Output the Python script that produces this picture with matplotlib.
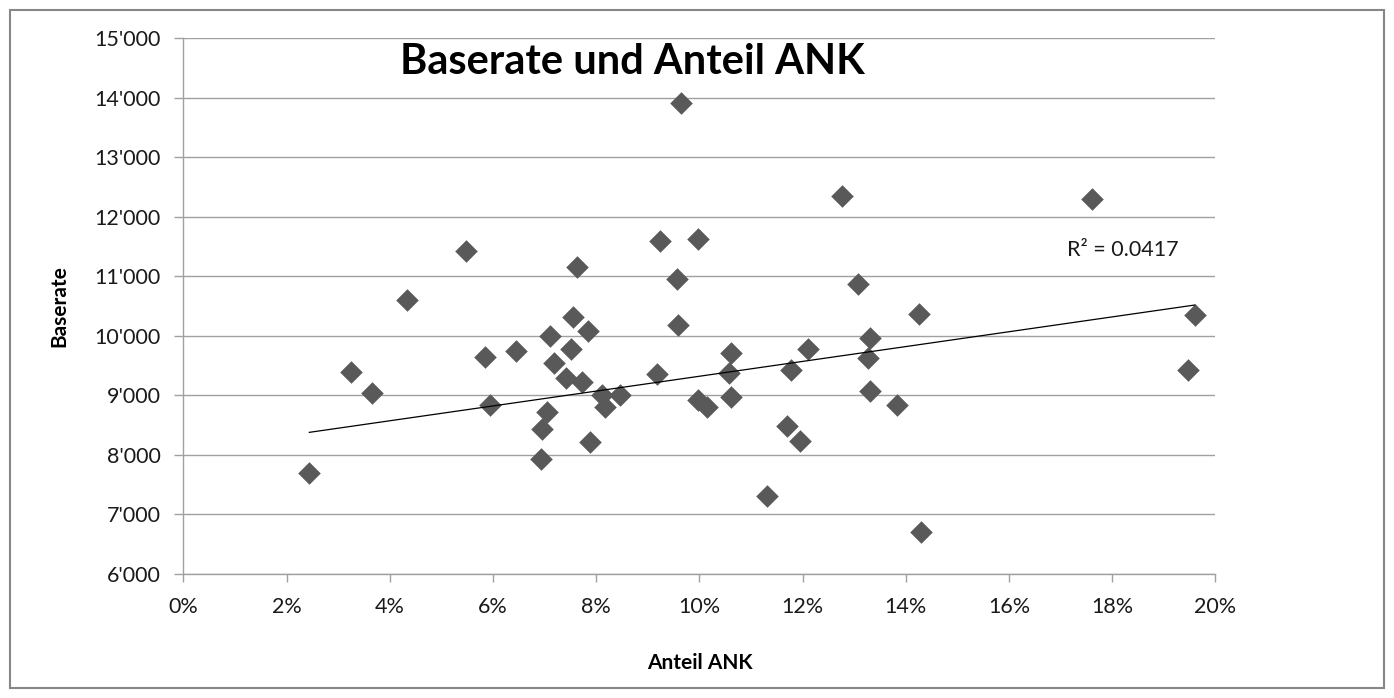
import numpy as np
import matplotlib
matplotlib.use("Agg")
import matplotlib.pyplot as plt
from matplotlib.ticker import FuncFormatter, MultipleLocator
from matplotlib.patches import Rectangle

plt.rcParams['font.family'] = ['Lato', 'DejaVu Sans']

# Anteil ANK (in %) and Baserate
anteil_ank = [2.44, 3.25, 3.65, 4.34, 5.48, 5.84, 5.95, 6.44, 6.92, 6.94,
              7.04, 7.10, 7.18, 7.41, 7.51, 7.55, 7.63, 7.73, 7.84, 7.88,
              8.12, 8.17, 8.47, 9.17, 9.23, 9.57, 9.59, 9.64, 9.98, 9.98,
              10.14, 10.57, 10.61, 10.61, 11.30, 11.69, 11.78, 11.95, 12.10, 12.76,
              13.07, 13.26, 13.31, 13.31, 13.83, 14.25, 14.29, 17.61, 19.47, 19.60]
baserate = [7690, 9395, 9042, 10600, 11429, 9647, 8840, 9748, 7928, 8427,
            8723, 9995, 9546, 9294, 9771, 10309, 11160, 9227, 10084, 8218,
            9003, 8807, 9003, 9356, 11595, 10956, 10188, 13906, 11617, 8928,
            8805, 9368, 9714, 8973, 7314, 8479, 9420, 8227, 9785, 12353,
            10872, 9630, 9966, 9067, 8844, 10365, 6697, 12303, 9420, 10348]

# linear trendline as drawn in the reference (end points)
trend_x = [2.44, 19.60]
trend_y = [8378, 10516]
r2_label = "R² = 0.0417"

x = np.array(anteil_ank) / 100
y = np.array(baserate)

fig = plt.figure(figsize=(13.94, 6.98), dpi=100)
ax = fig.add_axes([0.1316, 0.1777, 0.7403, 0.7679])

grey = '#a0a0a0'
ax.scatter(x, y, marker='D', s=11.5 ** 2, color='#595959', linewidths=0, zorder=3)
ax.plot(np.array(trend_x) / 100, trend_y, color='black', lw=0.9, zorder=4)

ax.set_xlim(0, 0.20)
ax.set_ylim(6000, 15000)
ax.xaxis.set_major_locator(MultipleLocator(0.02))
ax.yaxis.set_major_locator(MultipleLocator(1000))
ax.xaxis.set_major_formatter(FuncFormatter(lambda v, p: f"{int(round(v * 100))}%"))
ax.yaxis.set_major_formatter(FuncFormatter(lambda v, p: f"{v:,.0f}".replace(",", "'")))
ax.grid(axis='y', color=grey, lw=1.0)
ax.set_axisbelow(True)
for s in ['top', 'right']:
    ax.spines[s].set_visible(False)
for s in ['left', 'bottom']:
    ax.spines[s].set_color(grey)
    ax.spines[s].set_linewidth(1.0)
ax.tick_params(axis='both', colors=grey, labelcolor='#1a1a1a', labelsize=15.5, width=1.0)
ax.tick_params(axis='y', length=6.5, pad=10)
ax.tick_params(axis='x', length=5.5, pad=11)

ax.set_xlabel('Anteil ANK', fontsize=15, fontweight='bold', labelpad=26)
ax.set_ylabel('Baserate', fontsize=15, fontweight='bold', labelpad=18)

ax.text(0.435, 0.955, 'Baserate und Anteil ANK', transform=ax.transAxes,
        ha='center', va='center', fontsize=30, fontweight='bold', color='black')
ax.text(0.856, 0.6045, r2_label, transform=ax.transAxes,
        ha='left', va='center', fontsize=15.5, color='#1a1a1a')

# outer chart border
fig.patches.append(Rectangle((10 / 1394, 10 / 698), 1374 / 1394, 678 / 698,
                             transform=fig.transFigure, fill=False,
                             edgecolor='#878787', lw=1.5))

fig.savefig('out.png', dpi=100)
